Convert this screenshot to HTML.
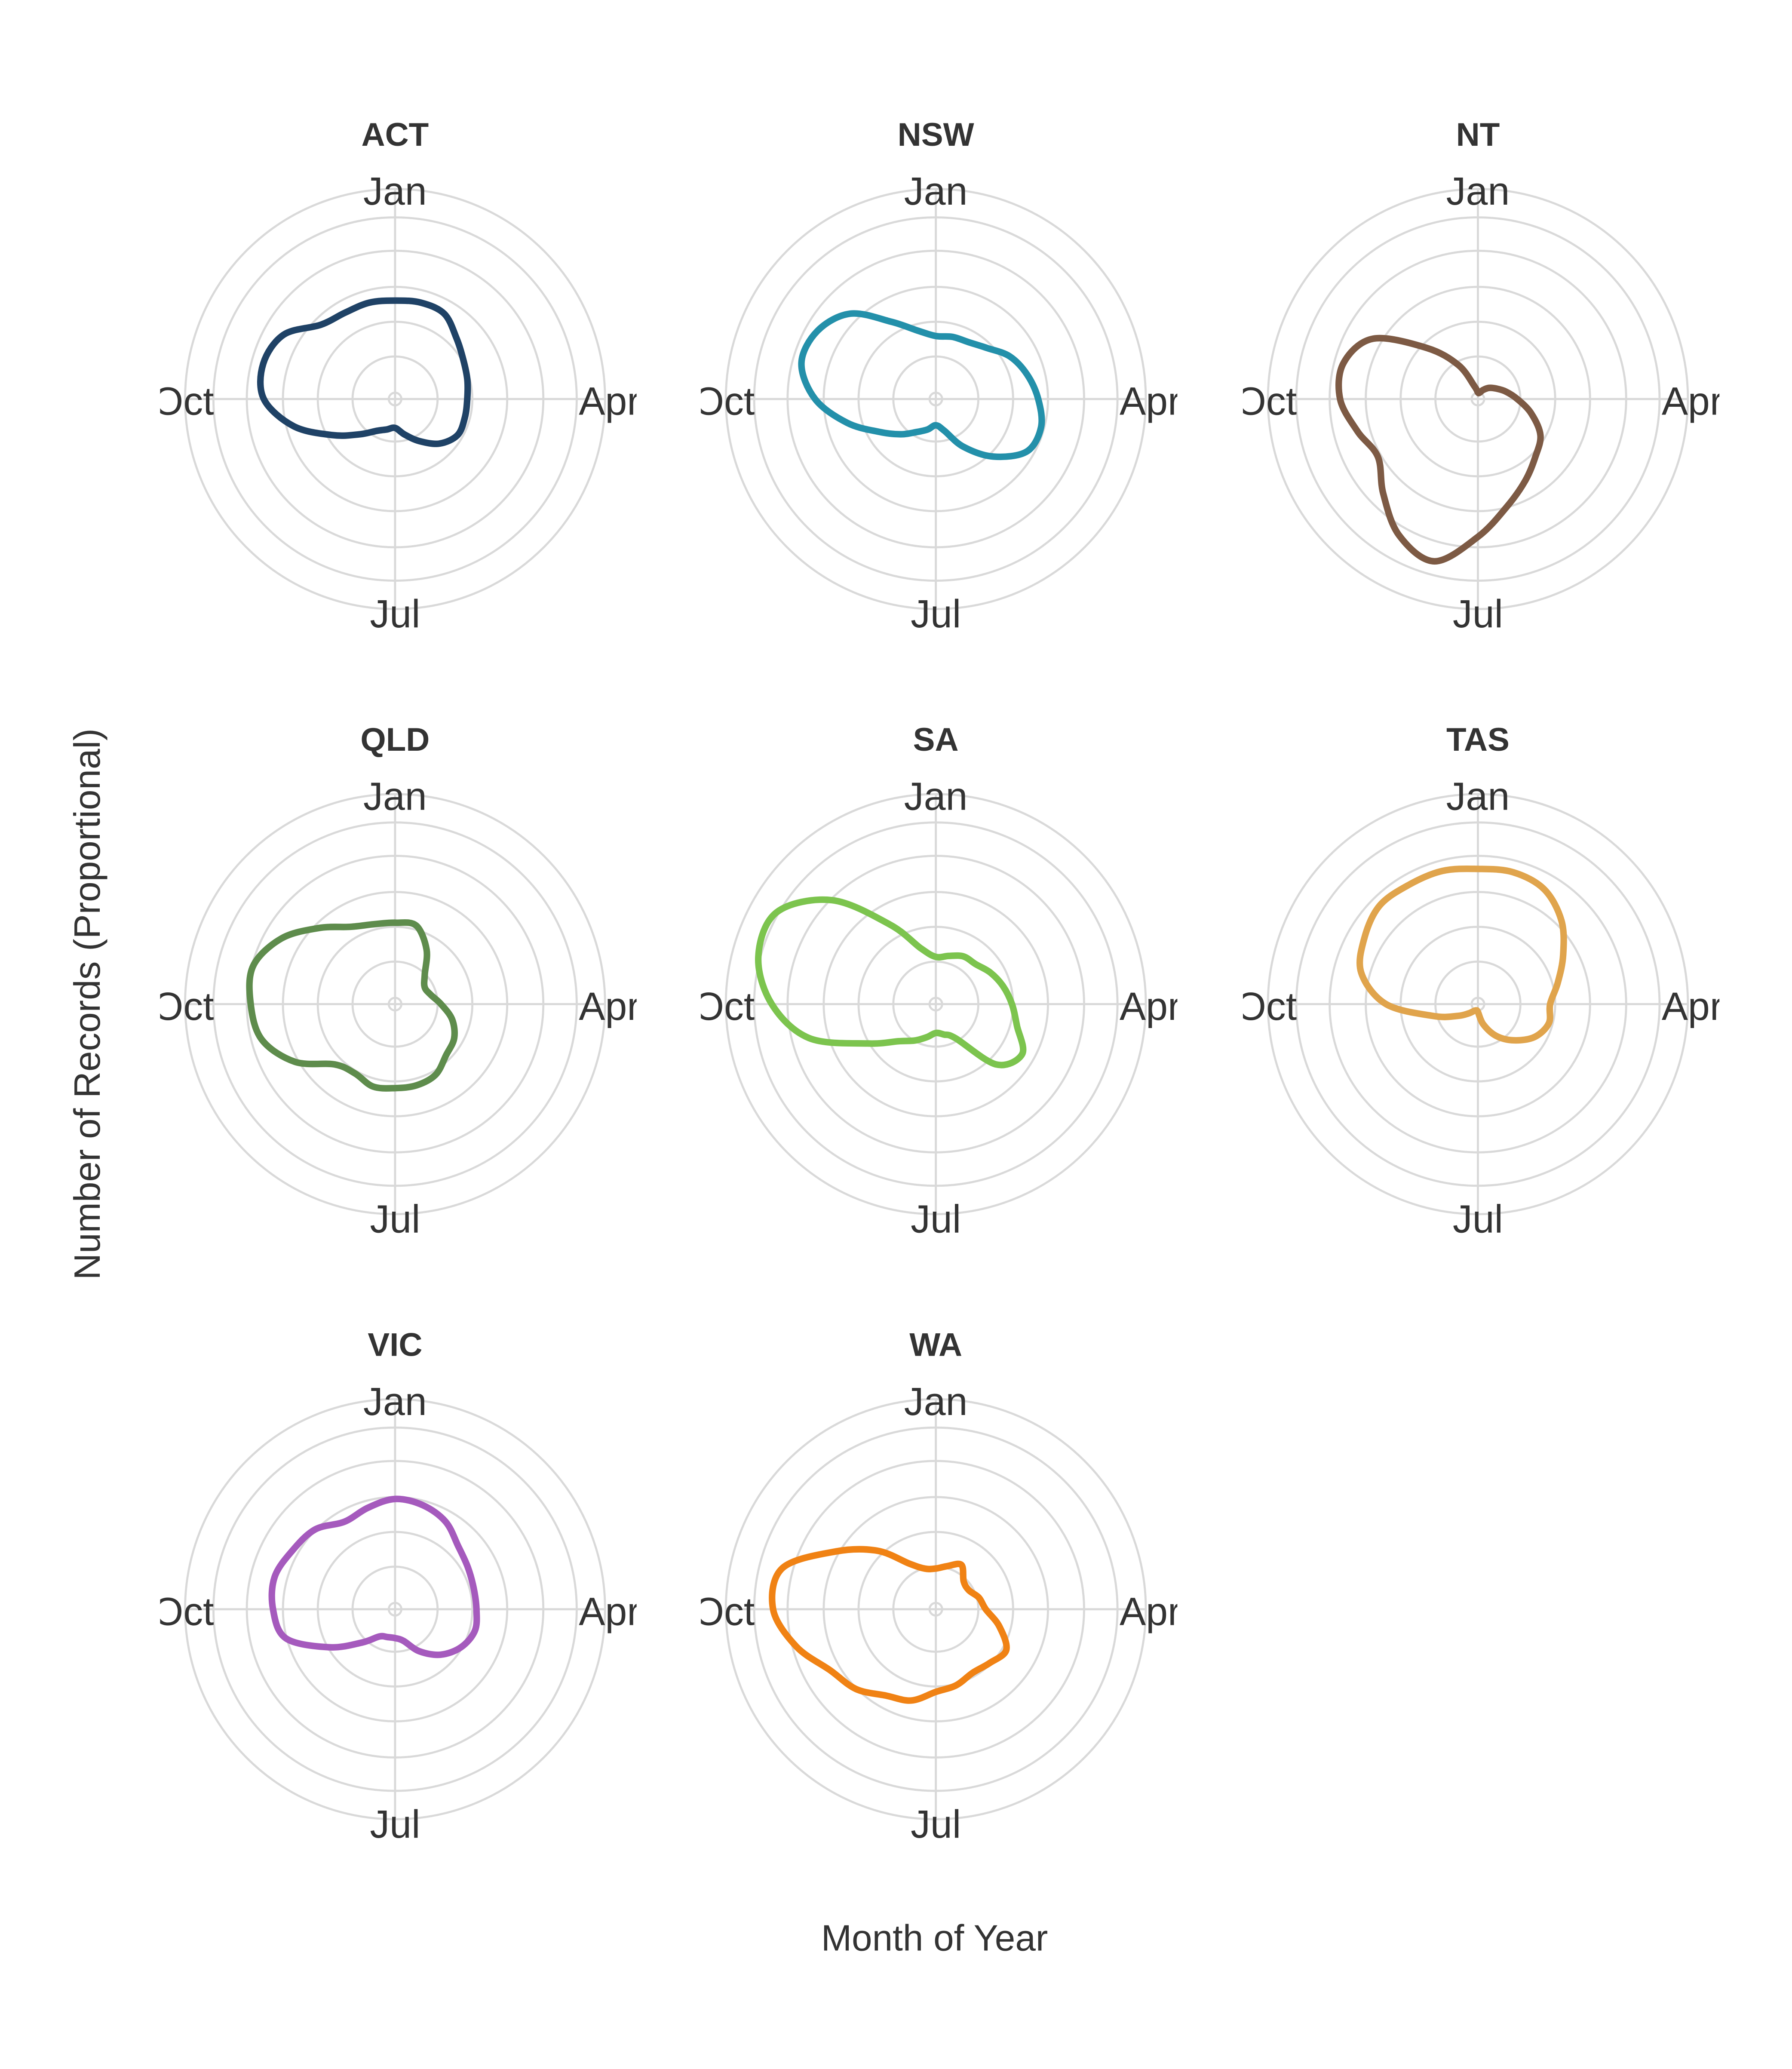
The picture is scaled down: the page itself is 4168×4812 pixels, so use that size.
<!DOCTYPE html>
<html><head><meta charset="utf-8"><style>
html,body{margin:0;padding:0;background:#fff;}
svg{display:block;}
text{font-family:"Liberation Sans",Arial,sans-serif;fill:#333;}
</style></head><body>
<svg id="chart" width="4168" height="4812" viewBox="0 0 1365.3 1576.3" preserveAspectRatio="none" xmlns="http://www.w3.org/2000/svg">
<rect width="1365.3" height="1576.3" fill="#fff"/>
<text x="712" y="1486" font-size="28" text-anchor="middle">Month of Year</text>
<text x="0" y="0" font-size="28" text-anchor="middle" transform="translate(76,765) rotate(-90)">Number of Records (Proportional)</text>
<g id="panels"></g>
</svg>
<script>
// Angles: 24 samples every 15 degrees, clockwise from Jan (top)
const states = ["ACT","NSW","NT","QLD","SA","TAS","VIC","WA"];
const colors = ["#1f4266","#2390aa","#7d5a44","#5e8c4c","#7cc44e","#e0a44c","#a55abd","#f08214"];
const monthLabels = ["Jan","Apr","Jul","Oct"];
const actVals = [75,76,75,66,60,57,55,55,55,48,37,28,22,24,28,38,55,80,100,104,98,80,76,76];
const nswVals = [48,49,50,55,65,72,78,83,80,62,42,25,20,24,29,38,50,70,92,106,104,92,68,54];
const ntVals  = [5,5,8,12,16,22,30,42,55,62,72,85,105,128,120,102,88,95,105,106,92,55,30,10];
const qldVals = [62,62,48,32,26,28,35,45,52,55,62,64,64,65,61,65,88,105,110,112,100,82,68,63];
const saVals  = [36,38,42,43,48,53,58,64,76,65,30,24,22,26,32,40,60,100,125,140,140,112,70,44];
const tasVals = [103,104,101,90,75,63,55,56,50,39,28,16,6,5,6,10,18,35,70,92,100,106,105,105];
const vicVals = [84,82,77,68,64,62,62,63,58,49,37,25,22,22,24,36,58,86,93,95,90,86,77,80];
const waVals  = [31,34,39,30,29,34,38,50,62,58,56,60,63,72,76,86,93,110,124,121,88,63,40,32];
const seriesVals = [actVals,nswVals,ntVals,qldVals,saVals,tasVals,vicVals,waVals];

const NS = "http://www.w3.org/2000/svg";
const colX = [301,713,1126], rowY = [304,765,1226];
const outerR = 160, gridFrac = [0.03,0.2025,0.368,0.534,0.706,0.865,1];
const rScale = v => v; // values expressed on 0..160 radial scale
function pt(cx,cy,ang,r){const a=ang*Math.PI/180;return [cx+r*Math.sin(a),cy-r*Math.cos(a)];}
function mk(tag,attrs,parent){const e=document.createElementNS(NS,tag);for(const k in attrs)e.setAttribute(k,attrs[k]);parent.appendChild(e);return e;}
const root=document.getElementById('panels');
const defs=mk('defs',{},root);
states.forEach((st,i)=>{
  const cx=colX[i%3], cy=rowY[Math.floor(i/3)];
  const cp=mk('clipPath',{id:'clip'+i},defs);
  mk('rect',{x:cx-179,y:cy-230,width:363,height:420},cp);
  const g=mk('g',{'clip-path':'url(#clip'+i+')'},root);
  
  
  gridFrac.forEach(f=>{
    const c=mk('circle',{cx:cx,cy:cy,r:outerR*f,fill:'none',stroke:'#d9d9d9','stroke-width':1.6},g);
    
    
  });
  [0,90].forEach(a=>{
    const p1=pt(cx,cy,a,outerR),p2=pt(cx,cy,a+180,outerR);
    const l=mk('line',{x1:p1[0],y1:p1[1],x2:p2[0],y2:p2[1],stroke:'#d9d9d9','stroke-width':1.6},g);
    
    
  });
  const pos=[[cx,cy-148],[cx+140,cy+12],[cx,cy+174],[cx-138,cy+12]];
  const anch=['middle','start','middle','end'];
  monthLabels.forEach((m,k)=>{
    const t=mk('text',{x:pos[k][0],y:pos[k][1],'font-size':30,'text-anchor':anch[k]},g);
    t.textContent=m;
    
    
  });
  const vals=seriesVals[i], n=vals.length;
  const P=vals.map((v,k)=>pt(cx,cy,k*360/n,rScale(v)));
  let d='M'+P[0][0].toFixed(2)+','+P[0][1].toFixed(2);
  for(let k=0;k<n;k++){
    const p0=P[(k-1+n)%n],p1=P[k],p2=P[(k+1)%n],p3=P[(k+2)%n];
    const c1=[p1[0]+(p2[0]-p0[0])/6,p1[1]+(p2[1]-p0[1])/6];
    const c2=[p2[0]-(p3[0]-p1[0])/6,p2[1]-(p3[1]-p1[1])/6];
    d+=' C'+c1[0].toFixed(2)+','+c1[1].toFixed(2)+' '+c2[0].toFixed(2)+','+c2[1].toFixed(2)+' '+p2[0].toFixed(2)+','+p2[1].toFixed(2);
  }
  d+='Z';
  const path=mk('path',{d:d,fill:'none',stroke:colors[i],'stroke-width':5,'stroke-linejoin':'round'},g);
  
  
  const title=mk('text',{x:cx,y:cy-193,'font-size':25,'font-weight':'bold','text-anchor':'middle'},root);
  title.textContent=st;
  
  
});
</script>
</body></html>
